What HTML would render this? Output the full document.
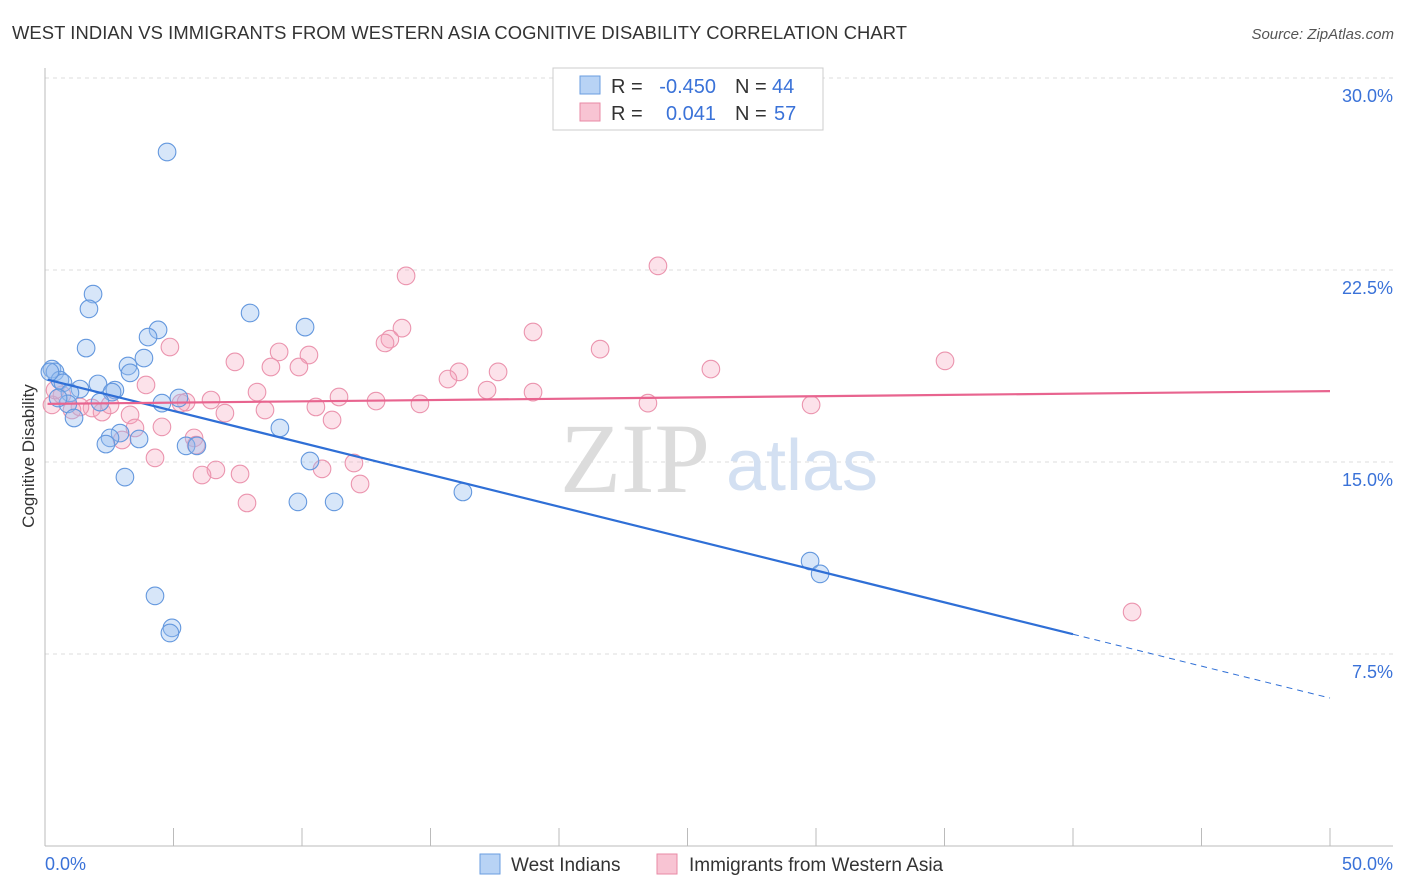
<!DOCTYPE html>
<html><head><meta charset="utf-8"><style>
body{margin:0;background:#fff;font-family:"Liberation Sans",sans-serif}
svg{display:block}
</style></head><body>
<svg id="chart" width="1406" height="892" xmlns="http://www.w3.org/2000/svg">
<text x="12" y="39" font-size="18.4" fill="#333" textLength="895">WEST INDIAN VS IMMIGRANTS FROM WESTERN ASIA COGNITIVE DISABILITY CORRELATION CHART</text>
<text x="1394" y="39" font-size="15" fill="#555" font-style="italic" text-anchor="end">Source: ZipAtlas.com</text>
<text x="0" y="0" transform="translate(34,456) rotate(-90)" font-size="17" fill="#333" text-anchor="middle">Cognitive Disability</text>
<g id="grid"></g>
<text x="635" y="492" font-size="100" fill="#dcdcdc" font-family="Liberation Serif,serif" text-anchor="middle">ZIP</text>
<text x="802" y="490" font-size="72" fill="#d3e0f2" text-anchor="middle">atlas</text>
<g id="points"></g>
<g id="lines"></g>
<g>
<rect x="553" y="68" width="270" height="62" fill="#fff" stroke="#ccc"/>
<rect x="580" y="76" width="20" height="18" fill="#b8d3f5" stroke="#6a9ee0"/>
<rect x="580" y="103" width="20" height="18" fill="#f8c4d3" stroke="#e88aa6"/>
<text x="611" y="93" font-size="20" fill="#333">R =</text>
<text x="716" y="93" font-size="20" fill="#3a72d8" text-anchor="end">-0.450</text>
<text x="735" y="93" font-size="20" fill="#333">N =</text>
<text x="772" y="93" font-size="20" fill="#3a72d8">44</text>
<text x="611" y="120" font-size="20" fill="#333">R =</text>
<text x="716" y="120" font-size="20" fill="#3a72d8" text-anchor="end">0.041</text>
<text x="735" y="120" font-size="20" fill="#333">N =</text>
<text x="774" y="120" font-size="20" fill="#3a72d8">57</text>
</g>
<g>
<rect x="480" y="854" width="20" height="20" fill="#b8d3f5" stroke="#6a9ee0"/>
<text x="511" y="871" font-size="19" fill="#333">West Indians</text>
<rect x="657" y="854" width="20" height="20" fill="#f8c4d3" stroke="#e88aa6"/>
<text x="689" y="871" font-size="19" fill="#333">Immigrants from Western Asia</text>
</g>
</svg>
<script>
const xTicksLabels=["0.0%","50.0%"];
const yTicks=[7.5,15,22.5,30];
const yTickLabels=["7.5%","15.0%","22.5%","30.0%"];
const blueX=[4.75,1.87,1.71,7.98,4.40,10.12,4.01,1.60,3.85,3.23,3.31,0.27,0.39,0.58,0.70,2.06,2.72,2.61,1.36,0.97,5.21,4.55,2.14,0.89,1.13,2.92,2.53,2.37,3.66,5.49,5.91,9.14,10.31,3.11,9.84,11.25,16.26,29.77,30.16,4.28,4.94,4.86,0.19,0.51];
const blueY=[27.11,21.56,20.98,20.82,20.16,20.27,19.88,19.45,19.06,18.75,18.48,18.63,18.52,18.20,18.09,18.05,17.81,17.73,17.85,17.70,17.50,17.30,17.34,17.27,16.72,16.13,15.94,15.70,15.90,15.63,15.63,16.33,15.04,14.41,13.44,13.44,13.83,11.13,10.63,9.77,8.52,8.32,18.52,17.50];
const pinkX=[23.85,14.05,13.89,18.99,13.42,13.23,21.60,4.86,9.11,10.27,35.02,7.39,8.79,9.88,25.91,16.11,17.63,15.68,3.93,8.25,11.44,17.20,18.99,12.88,14.59,23.46,29.81,6.46,5.49,5.29,10.54,8.56,7.00,1.83,1.36,0.27,0.66,3.31,2.22,11.17,4.55,3.50,3.00,5.80,5.88,4.28,12.02,10.78,6.65,6.11,7.59,12.26,7.86,42.30,1.05,2.53,0.39];
const pinkY=[22.66,22.27,20.23,20.08,19.80,19.65,19.41,19.49,19.30,19.18,18.95,18.91,18.71,18.71,18.63,18.52,18.52,18.24,18.01,17.73,17.54,17.81,17.73,17.38,17.27,17.30,17.23,17.42,17.34,17.30,17.15,17.03,16.91,17.11,17.15,17.23,17.62,16.84,16.95,16.64,16.37,16.33,15.86,15.94,15.66,15.16,14.96,14.73,14.69,14.49,14.53,14.14,13.40,9.14,17.03,17.23,17.81];
const blueTrend=[18.24,5.78];
const blueSolidEnd=40;
const pinkTrend=[17.27,17.77];
const NS="http://www.w3.org/2000/svg";
const X=v=>45+v*1285/50, Y=v=>846-v*25.6;
function mk(tag,attrs,parent){const e=document.createElementNS(NS,tag);for(const k in attrs)e.setAttribute(k,attrs[k]);parent.appendChild(e);return e;}
const grid=document.getElementById('grid');
yTicks.forEach((t,i)=>{
 const l=mk('line',{x1:45,x2:1393,y1:Y(t),y2:Y(t),stroke:'#ddd','stroke-dasharray':'4,4'},grid);
 
 
 const tx=mk('text',{x:1393,y:Y(t)+24,'font-size':18,fill:'#3a72d8','text-anchor':'end'},grid);
 tx.textContent=yTickLabels[i];
 
 
});
const ax=mk('line',{x1:45,x2:45,y1:68,y2:846,stroke:'#bbb'},grid);


const bx=mk('line',{x1:45,x2:1393,y1:846,y2:846,stroke:'#bbb'},grid);


for(let i=0;i<=10;i++){const t=mk('line',{x1:X(i*5),x2:X(i*5),y1:828,y2:846,stroke:'#bbb'},grid);
 
 }
const xl0=mk('text',{x:45,y:870,'font-size':18,fill:'#3a72d8'},grid);xl0.textContent=xTicksLabels[0];


const xl1=mk('text',{x:1393,y:870,'font-size':18,fill:'#3a72d8','text-anchor':'end'},grid);xl1.textContent=xTicksLabels[1];


const pts=document.getElementById('points');
pinkX.forEach((v,i)=>{const c=mk('circle',{cx:X(v),cy:Y(pinkY[i]),r:8.8,fill:'rgba(244,160,185,0.3)',stroke:'#eb94ae','stroke-width':1.1},pts);
 
 });
blueX.forEach((v,i)=>{const c=mk('circle',{cx:X(v),cy:Y(blueY[i]),r:8.8,fill:'rgba(150,190,240,0.38)',stroke:'#6498de','stroke-width':1.1},pts);
 
 });
const ln=document.getElementById('lines');
const by=x=>blueTrend[0]+(blueTrend[1]-blueTrend[0])*x/50;
const bl=mk('line',{x1:X(0.1),y1:Y(by(0.1)),x2:X(blueSolidEnd),y2:Y(by(blueSolidEnd)),stroke:'#2f6fd6','stroke-width':2.2},ln);


const bd=mk('line',{x1:X(blueSolidEnd),y1:Y(by(blueSolidEnd)),x2:X(50),y2:Y(by(50)),stroke:'#2f6fd6','stroke-width':1,'stroke-dasharray':'6,5'},ln);


const pl=mk('line',{x1:X(0.1),y1:Y(pinkTrend[0]),x2:X(50),y2:Y(pinkTrend[1]),stroke:'#e8648f','stroke-width':2.2},ln);


</script>
</body></html>
